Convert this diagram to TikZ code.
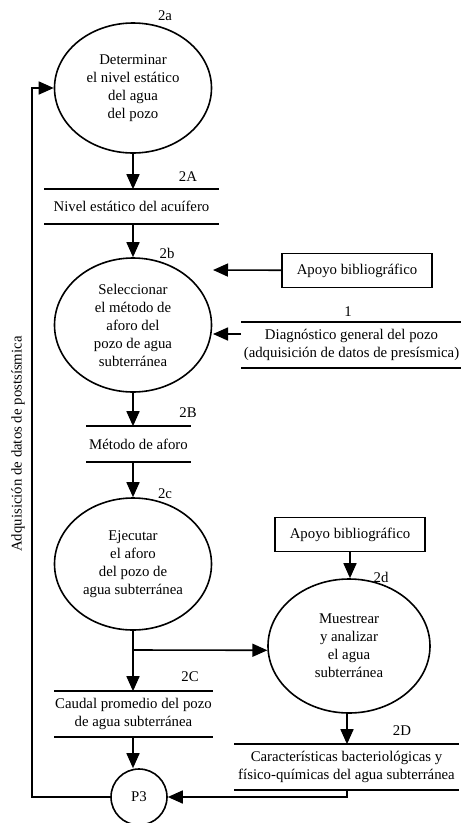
\documentclass[tikz,border=0pt]{standalone}
\usepackage{fontspec}
\setmainfont{Liberation Serif}
\usetikzlibrary{arrows.meta,shapes.geometric}

\begin{document}
\begin{tikzpicture}[x=1pt,y=-1pt,
  font=\fontsize{14.8}{18}\selectfont,
  line width=1.6pt,
  arr/.style={-{Triangle[length=15pt,width=13pt]}},
  proc/.style={draw,ellipse,inner sep=0pt,align=center},
  store/.style={inner sep=0pt,align=center},
  ext/.style={draw,inner sep=0pt,minimum width=150,minimum height=34},
  tag/.style={inner sep=0pt}
]
\useasboundingbox (0,0) rectangle (461,823);

% processes
\node[proc,minimum width=157,minimum height=130] (e2a) at (133,88)
  {Determinar\\el nivel estático\\del agua\\del pozo};
\node[proc,minimum width=157,minimum height=134] (e2b) at (133,325)
  {Seleccionar\\el método de\\aforo del\\pozo de agua\\subterránea};
\node[proc,minimum width=157,minimum height=132] (e2c) at (133,564)
  {Ejecutar\\el aforo\\del pozo de\\agua subterránea};
\node[proc,minimum width=162,minimum height=134] (e2d) at (349,646)
  {Muestrear\\y analizar\\el agua\\subterránea};
\node[draw,circle,inner sep=0pt,minimum size=56] (p3) at (139,797) {P3};

% process numbers
\node[tag] (t2a) at (165,16) {2a};
\node[tag] (t2b) at (167,253) {2b};
\node[tag] (t2c) at (165,494) {2c};
\node[tag] (t2d) at (381,577) {2d};

% data stores
\node[store,minimum width=173,minimum height=33] (s2A) at (131.5,206.5)
  {Nivel estático del acuífero};
\node[store,minimum width=219,minimum height=44] (s1) at (351.5,345)
  {Diagnóstico general del pozo\\(adquisición de datos de presísmica)};
\node[store,minimum width=103,minimum height=34] (s2B) at (138.5,444)
  {Método de aforo};
\node[store,minimum width=157,minimum height=44] (s2C) at (133.5,714)
  {Caudal promedio del pozo\\de agua subterránea};
\node[store,minimum width=223,minimum height=44] (s2D) at (346.5,767)
  {Características bacteriológicas y\\físico-químicas del agua subterránea};
\foreach \s in {s2A,s1,s2B,s2C,s2D}{
  \draw (\s.north west) -- (\s.north east);
  \draw (\s.south west) -- (\s.south east);
}
\node[tag] (t2A) at (188,177) {2A};
\node[tag] (t1) at (348,312) {1};
\node[tag] (t2B) at (188,413) {2B};
\node[tag] (t2C) at (190,677) {2C};
\node[tag] (t2D) at (402,731) {2D};

% external entities
\node[ext] (b1) at (357,270.5) {Apoyo bibliográfico};
\node[ext] (b2) at (350,534.5) {Apoyo bibliográfico};

% flows
\coordinate (in2b) at (213,270);
\coordinate (in2bs) at (213,334);
\coordinate (split) at (133,650);
\coordinate (fb) at (32,797);
\coordinate (d2D) at (347,797);

\draw[arr] (e2a) -- (s2A.north -| e2a);
\draw[arr] (s2A.south -| e2a) -- (e2b);
\draw[arr] (b1) -- (in2b);
\draw[arr] (s1.west |- in2bs) -- (in2bs);
\draw[arr] (e2b) -- (e2b |- s2B.north);
\draw[arr] (e2b |- s2B.south) -- (e2c);
\draw[arr] (b2) -- (b2 |- e2d.north);
\draw[arr] (e2c) -- (s2C.north -| e2c);
\draw[arr] (split) -- (e2d.183);
\draw[arr] (s2C.south -| e2c) -- (p3.north -| e2c);
\draw[arr] (e2d.south -| d2D) -- (s2D.north -| d2D);
\draw[arr] (s2D.south -| d2D) -- (d2D) -- (p3.east);
\draw[arr] (p3.west) -- (fb) |- (e2a.west);

\node[rotate=90,inner sep=0pt] (lbl) at (18,444) {Adquisición de datos de postsísmica};
\end{tikzpicture}
\end{document}
